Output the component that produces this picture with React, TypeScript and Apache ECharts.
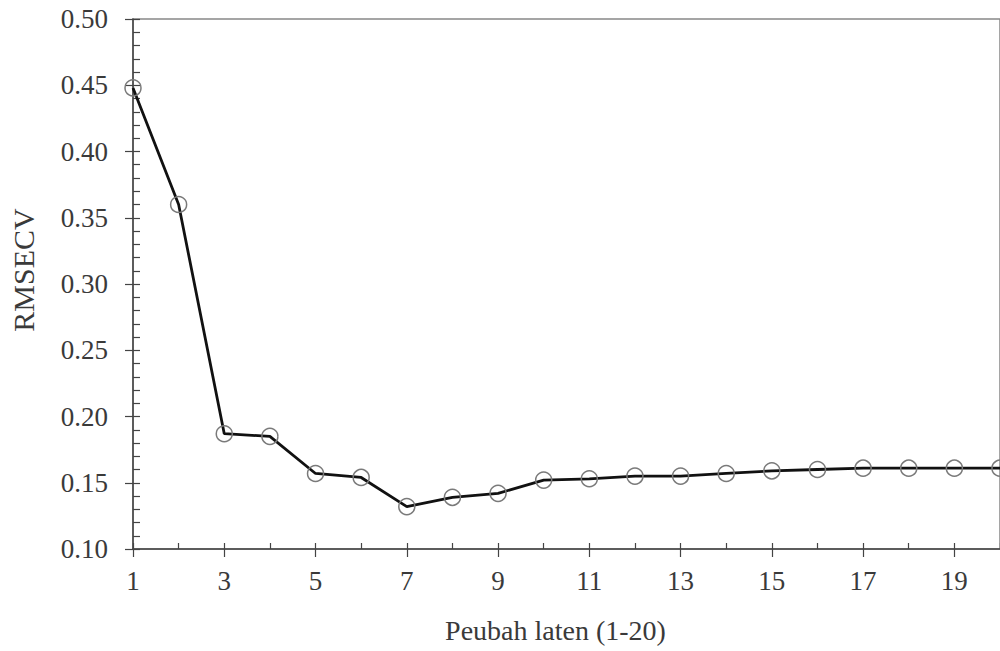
import React, { useEffect, useRef } from "react";
import * as echarts from "echarts";

const latentVars = [1, 2, 3, 4, 5, 6, 7, 8, 9, 10, 11, 12, 13, 14, 15, 16, 17, 18, 19, 20];
const rmsecv = [0.448, 0.36, 0.187, 0.185, 0.157, 0.154, 0.132, 0.139, 0.142, 0.152, 0.153, 0.155, 0.155, 0.157, 0.159, 0.16, 0.161, 0.161, 0.161, 0.161];
const xTitle = "Peubah laten (1-20)";
const yTitle = "RMSECV";

const FONT = "Liberation Serif";
const AX = "#444";
const TXT = "#3a3a3a";

export default function App() {
  const ref = useRef<HTMLDivElement>(null);
  useEffect(() => {
    if (!ref.current) return;
    const chart = echarts.init(ref.current, undefined, { renderer: "svg" });
    const points = latentVars.map((x, i) => [x, rmsecv[i]]);
    chart.setOption({
      animation: false,
      backgroundColor: "#ffffff",
      grid: {
        left: 133,
        top: 19,
        width: 868,
        height: 530,
        show: true,
        borderColor: "#888",
        borderWidth: 1.5,
        backgroundColor: "transparent",
      },
      xAxis: [
        {
          type: "value",
          min: 1,
          max: 20,
          interval: 2,
          position: "bottom",
          name: xTitle,
          nameLocation: "middle",
          nameGap: 67,
          nameTextStyle: { fontFamily: FONT, fontSize: 28, color: TXT, padding: [0, 22, 0, 0] },
          axisLine: { show: true, onZero: false, lineStyle: { color: AX, width: 1.5 } },
          axisTick: { show: true, inside: false, length: 8, lineStyle: { color: AX, width: 1.2 } },
          axisLabel: {
            show: true,
            margin: 18,
            fontFamily: FONT,
            fontSize: 27,
            color: TXT,
            showMaxLabel: false,
          },
          splitLine: { show: false },
        },
        {
          type: "value",
          min: 1,
          max: 20,
          interval: 1,
          position: "bottom",
          axisLine: { show: false, onZero: false },
          axisTick: { show: true, inside: true, length: 6, lineStyle: { color: AX, width: 1.2 } },
          axisLabel: { show: false },
          splitLine: { show: false },
        },
      ],
      yAxis: [
        {
          type: "value",
          min: 0.1,
          max: 0.5,
          interval: 0.05,
          position: "left",
          name: yTitle,
          nameLocation: "middle",
          nameGap: 95,
          nameRotate: 90,
          nameTextStyle: { fontFamily: FONT, fontSize: 30, color: TXT, padding: [0, 0, 0, 28] },
          axisLine: { show: true, onZero: false, lineStyle: { color: AX, width: 1.5 } },
          axisTick: { show: true, inside: false, length: 8, lineStyle: { color: AX, width: 1.2 } },
          axisLabel: {
            show: true,
            margin: 25,
            fontFamily: FONT,
            fontSize: 27,
            color: TXT,
            formatter: (v: number) => v.toFixed(2),
          },
          splitLine: { show: false },
        },
        {
          type: "value",
          min: 0.1,
          max: 0.5,
          interval: 0.05,
          position: "left",
          axisLine: { show: false, onZero: false },
          axisTick: { show: true, inside: true, length: 7, lineStyle: { color: AX, width: 1.2 } },
          minorTick: { show: true, splitNumber: 5, length: 7, lineStyle: { color: AX, width: 1.2 } },
          axisLabel: { show: false },
          splitLine: { show: false },
        },
      ],
      series: [
        {
          type: "line",
          data: points,
          xAxisIndex: 0,
          yAxisIndex: 0,
          clip: false,
          symbol: "circle",
          symbolSize: 16,
          showAllSymbol: true,
          lineStyle: { color: "#111", width: 2.8 },
          itemStyle: { color: "rgba(255,255,255,0)", borderColor: "#7a7a7a", borderWidth: 1.5 },
          z: 3,
        },
      ],
    });
    return () => chart.dispose();
  }, []);
  return (
    <div
      ref={ref}
      style={{ position: "fixed", left: 0, top: 0, width: 1000, height: 651, background: "#fff" }}
    />
  );
}
